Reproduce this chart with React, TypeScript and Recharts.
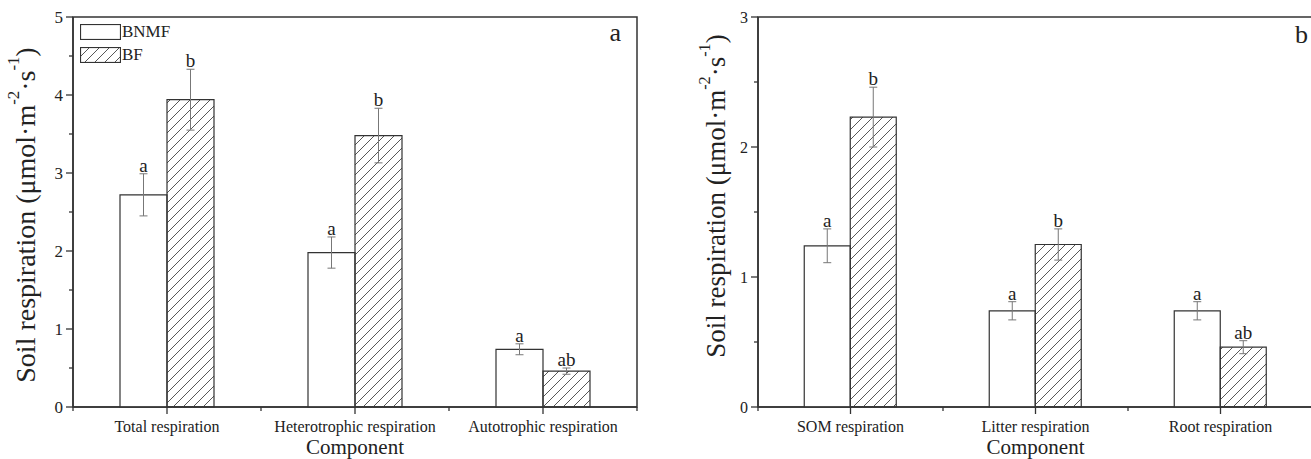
import React from 'react';
import { Bar, BarChart, ErrorBar, Label, LabelList, Legend, ReferenceArea, XAxis, YAxis } from 'recharts';

const FONT = '"Liberation Serif", "Times New Roman", serif';
const INK = '#222';
const LINE = '#333';

const seriesNames = ['BNMF', 'BF'];

// panel a
const totalCategories = ['Total respiration', 'Heterotrophic respiration', 'Autotrophic respiration'];
const totalBnmf = [2.72, 1.98, 0.74];
const totalBnmfErr = [0.27, 0.2, 0.07];
const totalBnmfLetters = ['a', 'a', 'a'];
const totalBf = [3.94, 3.48, 0.46];
const totalBfErr = [0.39, 0.35, 0.04];
const totalBfLetters = ['b', 'b', 'ab'];
const totalTicks = [0, 0.5, 1, 1.5, 2, 2.5, 3, 3.5, 4, 4.5, 5];

// panel b
const partCategories = ['SOM respiration', 'Litter respiration', 'Root respiration'];
const partBnmf = [1.24, 0.74, 0.74];
const partBnmfErr = [0.13, 0.07, 0.07];
const partBnmfLetters = ['a', 'a', 'a'];
const partBf = [2.23, 1.25, 0.46];
const partBfErr = [0.23, 0.12, 0.05];
const partBfLetters = ['b', 'b', 'ab'];
const partTicks = [0, 0.5, 1, 1.5, 2, 2.5, 3];

const buildRows = (cats: string[], a: number[], aErr: number[], b: number[], bErr: number[]) =>
  cats.map((name, i) => ({ name, bnmf: a[i], bnmfErr: aErr[i], bf: b[i], bfErr: bErr[i] }));

const totalRows = buildRows(totalCategories, totalBnmf, totalBnmfErr, totalBf, totalBfErr);
const partRows = buildRows(partCategories, partBnmf, partBnmfErr, partBf, partBfErr);

// letter sits just above the error bar cap
const letterLabel = (values: number[], errs: number[], letters: string[]) => (props: any) => {
  const { x, y, width, height, index } = props;
  const perUnit = values[index] ? height / values[index] : 0;
  const top = y - errs[index] * perUnit;
  return (
    <text x={x + width / 2} y={top - 2} textAnchor="middle" fontSize={19} fill={INK} fontFamily={FONT}>
      {letters[index]}
    </text>
  );
};

const YTick = (props: any) => {
  const { x, y, payload, fontSize } = props;
  const major = Number.isInteger(payload.value);
  return (
    <g>
      <line x1={x - (major ? 7 : 4)} y1={y} x2={x} y2={y} stroke={LINE} strokeWidth={1.3} />
      {major && (
        <text x={x - 10} y={y} textAnchor="end" dominantBaseline="central" fontSize={fontSize} fill={INK} fontFamily={FONT}>
          {payload.value}
        </text>
      )}
    </g>
  );
};

const XTick = (props: any) => {
  const { x, y, payload, count, fontSize } = props;
  const half = payload.offset ?? 0;
  return (
    <g>
      <line x1={x} y1={y} x2={x} y2={y + 7} stroke={LINE} strokeWidth={1.3} />
      <line x1={x - half} y1={y} x2={x - half} y2={y + 4} stroke={LINE} strokeWidth={1.3} />
      {payload.index === count - 1 && (
        <line x1={x + half} y1={y} x2={x + half} y2={y + 4} stroke={LINE} strokeWidth={1.3} />
      )}
      <text x={x} y={y + 25} textAnchor="middle" fontSize={fontSize} fill={INK} fontFamily={FONT}>
        {payload.value}
      </text>
    </g>
  );
};

const yTitle = (dx: number, dy: number, fontSize: number) => (props: any) => {
  const vb = props.viewBox;
  const cx = vb.x + dx;
  const cy = vb.y + vb.height / 2 + dy;
  const sup = Math.round(fontSize * 0.42);
  return (
    <text
      x={cx}
      y={cy}
      transform={`rotate(-90, ${cx}, ${cy})`}
      textAnchor="middle"
      dominantBaseline="central"
      fontSize={fontSize}
      fill={INK}
      fontFamily={FONT}
    >
      Soil respiration (μmol·m
      <tspan dy={-sup} fontSize={fontSize * 0.6}>-2</tspan>
      <tspan dy={sup}>·s</tspan>
      <tspan dy={-sup} fontSize={fontSize * 0.6}>-1</tspan>
      <tspan dy={sup}>)</tspan>
    </text>
  );
};

const xTitle = (props: any) => {
  const vb = props.viewBox;
  return (
    <text x={vb.x + vb.width / 2} y={vb.y + vb.height - 5} textAnchor="middle" fontSize={21} fill={INK} fontFamily={FONT}>
      Component
    </text>
  );
};

const panelTag = (tag: string, dx: number, dy: number) => (props: any) => {
  const vb = props.viewBox;
  return (
    <text x={vb.x + vb.width - dx} y={vb.y + dy} textAnchor="end" fontSize={26} fill={INK} fontFamily={FONT}>
      {tag}
    </text>
  );
};

const renderLegend = () => (
  <div style={{ fontFamily: FONT, fontSize: 17, color: INK }}>
    {seriesNames.map((n, i) => (
      <div key={n} style={{ display: 'flex', alignItems: 'center', height: 16, marginBottom: 7 }}>
        <svg width={41} height={16} style={{ display: 'block' }}>
          <rect x={0.5} y={0.5} width={40} height={15} fill={i ? 'url(#hatch)' : '#fff'} stroke={LINE} strokeWidth={1.2} />
        </svg>
        <span style={{ marginLeft: 1, lineHeight: '16px' }}>{n}</span>
      </div>
    ))}
  </div>
);

type PanelProps = {
  rows: any[];
  bnmf: number[];
  bnmfErr: number[];
  bnmfLetters: string[];
  bf: number[];
  bfErr: number[];
  bfLetters: string[];
  ticks: number[];
  width: number;
  axisWidth: number;
  rightMargin: number;
  tag: string;
  tagDx: number;
  tagDy: number;
  titleDx: number;
  titleDy: number;
  titleSize: number;
  yTickSize: number;
  xTickSize: number;
  legend?: boolean;
};

const Panel: React.FC<PanelProps> = (p) => {
  const max = p.ticks[p.ticks.length - 1];
  return (
    <BarChart
      width={p.width}
      height={459}
      data={p.rows}
      margin={{ top: 17, right: p.rightMargin, bottom: 0, left: 0 }}
      barCategoryGap="25%"
      barGap={0}
    >
      <XAxis
        dataKey="name"
        height={52}
        interval={0}
        tickSize={0}
        tickMargin={0}
        tickLine={false}
        axisLine={{ stroke: LINE, strokeWidth: 1.5 }}
        tick={(t: any) => <XTick {...t} count={p.rows.length} fontSize={p.xTickSize} />}
      >
        <Label content={xTitle} />
      </XAxis>
      <YAxis
        width={p.axisWidth}
        domain={[0, max]}
        ticks={p.ticks}
        interval={0}
        tickSize={0}
        tickMargin={0}
        tickLine={false}
        axisLine={{ stroke: LINE, strokeWidth: 1.5 }}
        tick={(t: any) => <YTick {...t} fontSize={p.yTickSize} />}
      >
        <Label content={yTitle(p.titleDx, p.titleDy, p.titleSize)} />
      </YAxis>
      <ReferenceArea y1={0} y2={max} fill="none" stroke={LINE} strokeWidth={1.5} fillOpacity={0}>
        <Label content={panelTag(p.tag, p.tagDx, p.tagDy)} />
      </ReferenceArea>
      {p.legend && (
        <Legend
          layout="vertical"
          align="center"
          verticalAlign="middle"
          content={renderLegend}
          wrapperStyle={{ position: 'absolute', left: 80, top: 24, width: 'auto' }}
        />
      )}
      <Bar dataKey="bnmf" name="BNMF" fill="#fff" stroke={LINE} strokeWidth={1.2} isAnimationActive={false}>
        <ErrorBar dataKey="bnmfErr" width={4} stroke="#777" strokeWidth={1} />
        <LabelList dataKey="bnmf" content={letterLabel(p.bnmf, p.bnmfErr, p.bnmfLetters)} />
      </Bar>
      <Bar dataKey="bf" name="BF" fill="url(#hatch)" stroke={LINE} strokeWidth={1.2} isAnimationActive={false}>
        <ErrorBar dataKey="bfErr" width={4} stroke="#777" strokeWidth={1} />
        <LabelList dataKey="bf" content={letterLabel(p.bf, p.bfErr, p.bfLetters)} />
      </Bar>
    </BarChart>
  );
};

const App: React.FC = () => {
  return (
    <div style={{ position: 'absolute', left: 0, top: 0, width: 1311, height: 459, overflow: 'hidden', background: '#fff' }}>
      <svg width={0} height={0} style={{ position: 'absolute' }}>
        <defs>
          <pattern id="hatch" patternUnits="userSpaceOnUse" width={10} height={10}>
            <path d="M0,10 L10,0 M-2,2 L2,-2 M8,12 L12,8" stroke="#444" strokeWidth={0.9} />
          </pattern>
        </defs>
      </svg>
      <div style={{ position: 'absolute', left: 0, top: 0 }}>
        <Panel
          rows={totalRows}
          bnmf={totalBnmf}
          bnmfErr={totalBnmfErr}
          bnmfLetters={totalBnmfLetters}
          bf={totalBf}
          bfErr={totalBfErr}
          bfLetters={totalBfLetters}
          ticks={totalTicks}
          width={650}
          axisWidth={73}
          rightMargin={13}
          tag="a"
          tagDx={16}
          tagDy={24}
          titleDx={25}
          titleDy={3}
          titleSize={28}
          yTickSize={17}
          xTickSize={16}
          legend
        />
      </div>
      <div style={{ position: 'absolute', left: 660, top: 0 }}>
        <Panel
          rows={partRows}
          bnmf={partBnmf}
          bnmfErr={partBnmfErr}
          bnmfLetters={partBnmfLetters}
          bf={partBf}
          bfErr={partBfErr}
          bfLetters={partBfLetters}
          ticks={partTicks}
          width={660}
          axisWidth={98}
          rightMargin={7}
          tag="b"
          tagDx={5}
          tagDy={26}
          titleDx={56}
          titleDy={-16}
          titleSize={27}
          yTickSize={16}
          xTickSize={16}
        />
      </div>
    </div>
  );
};

export default App;
